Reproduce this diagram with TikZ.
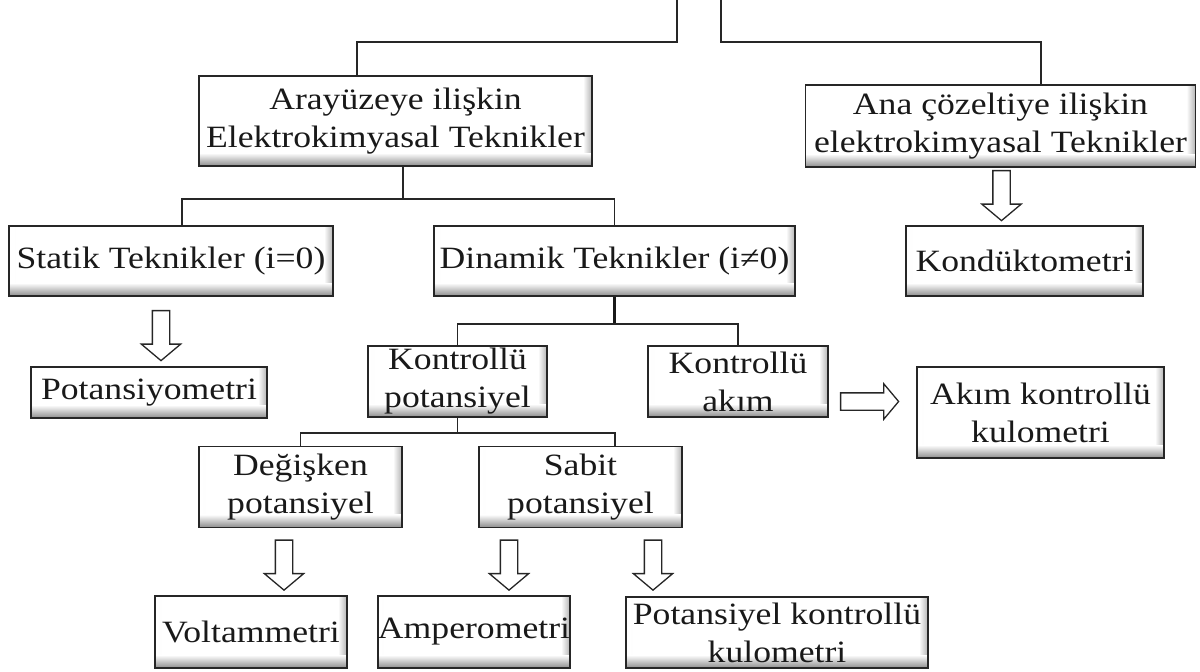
\documentclass[tikz,border=0pt]{standalone}
\usepackage{fontspec}
\setmainfont{Liberation Serif}[FakeStretch=1.15]
\usetikzlibrary{shapes.arrows}
\begin{document}
\begin{tikzpicture}[x=1pt,y=-1pt,
  box/.style={draw=black!85, line width=1.6pt, fill=white, inner sep=0pt, align=center,
    text=black!90, font=\fontsize{31}{38}\selectfont,
    path picture={
      \shade[left color=white, right color=black!12]
        ([xshift=6pt]path picture bounding box.south west) rectangle (path picture bounding box.north west);
      \shade[left color=white, right color=black!30]
        ([xshift=-9pt]path picture bounding box.north east) rectangle (path picture bounding box.south east);
      \shade[top color=white, bottom color=black!45]
        ([yshift=13pt]path picture bounding box.south west) rectangle (path picture bounding box.south east);
    }},
  barrow/.style={single arrow, draw=black!85, fill=white, line width=1.3pt,
    inner sep=8pt, minimum width=38pt, single arrow head extend=11pt,
    single arrow tip angle=100, minimum height=50pt},
  conn/.style={draw=black!85, line width=1.6pt},
  thickconn/.style={draw=black!90, line width=3pt}
]
\useasboundingbox (0,0) rectangle (1200,672);

% boxes
\node[box, minimum width=393pt, minimum height=90pt] (A) at (395.5,121) {Arayüzeye ilişkin\\Elektrokimyasal Teknikler};
\node[box, minimum width=390pt, minimum height=82pt] (B) at (1000.5,126) {Ana çözeltiye ilişkin\\elektrokimyasal Teknikler};
\node[box, minimum width=324pt, minimum height=70pt] (C) at (171,261) {Statik Teknikler (i=0)};
\node[box, minimum width=361pt, minimum height=70pt] (D) at (614.5,261) {Dinamik Teknikler (i≠0)};
\node[box, minimum width=237pt, minimum height=70pt] (E) at (1024.5,261) {Kondüktometri};
\node[box, minimum width=236pt, minimum height=51pt] (P) at (149,392.5) {Potansiyometri};
\node[box, minimum width=179pt, minimum height=71pt] (KP) at (457.5,381.5) {Kontrollü\\potansiyel};
\node[box, minimum width=180pt, minimum height=71pt] (KA) at (738,381.5) {Kontrollü\\akım};
\node[box, minimum width=247pt, minimum height=91pt] (AK) at (1040.5,412.5) {Akım kontrollü\\kulometri};
\node[box, minimum width=203pt, minimum height=81pt] (DG) at (300.5,487) {Değişken\\potansiyel};
\node[box, minimum width=203pt, minimum height=81pt] (SB) at (580.5,487) {Sabit\\potansiyel};
\node[box, minimum width=192pt, minimum height=72pt] (V) at (251,632) {Voltammetri};
\node[box, minimum width=192pt, minimum height=72pt] (AM) at (474,632) {Amperometri};
\node[box, minimum width=302pt, minimum height=71pt] (PK) at (777,632.5) {Potansiyel kontrollü\\kulometri};

% top stubs
\coordinate (t1) at (677,0);
\coordinate (t2) at (721,0);
\draw[conn] (t1) -- ++(0,42) -| ([xshift=-38.5pt]A.north);
\draw[conn] (t2) -- ++(0,42) -| ([xshift=40.5pt]B.north);

% A -> C, D
\draw[conn] ([xshift=7.5pt]A.south) -- ++(0,32) coordinate (jA);
\draw[conn] ([xshift=11pt]C.north) |- (jA) -| (D.north);

% D -> KP, KA
\draw[thickconn] (D.south) -- ++(0,27) coordinate (jD);
\draw[conn] (KP.north) |- (jD) -| (KA.north);

% KP -> DG, SB
\draw[conn] (KP.south) -- ++(0,15) coordinate (jK);
\draw[conn] (DG.north) |- (jK) -| ([xshift=34.5pt]SB.north);

% block arrows
\node[barrow, rotate=-90] (arB) at (1001.5,192) {};
\node[barrow, rotate=-90] (arC) at (161,332) {};
\node[barrow, rotate=-90] (arDG) at (284,561.5) {};
\node[barrow, rotate=-90] (arAM) at (509,561.5) {};
\node[barrow, rotate=-90] (arPK) at (653,561.5) {};
\node[barrow, minimum height=58pt, minimum width=34pt, single arrow head extend=9pt] (arKA) at (866,401.5) {};
\end{tikzpicture}
\end{document}
